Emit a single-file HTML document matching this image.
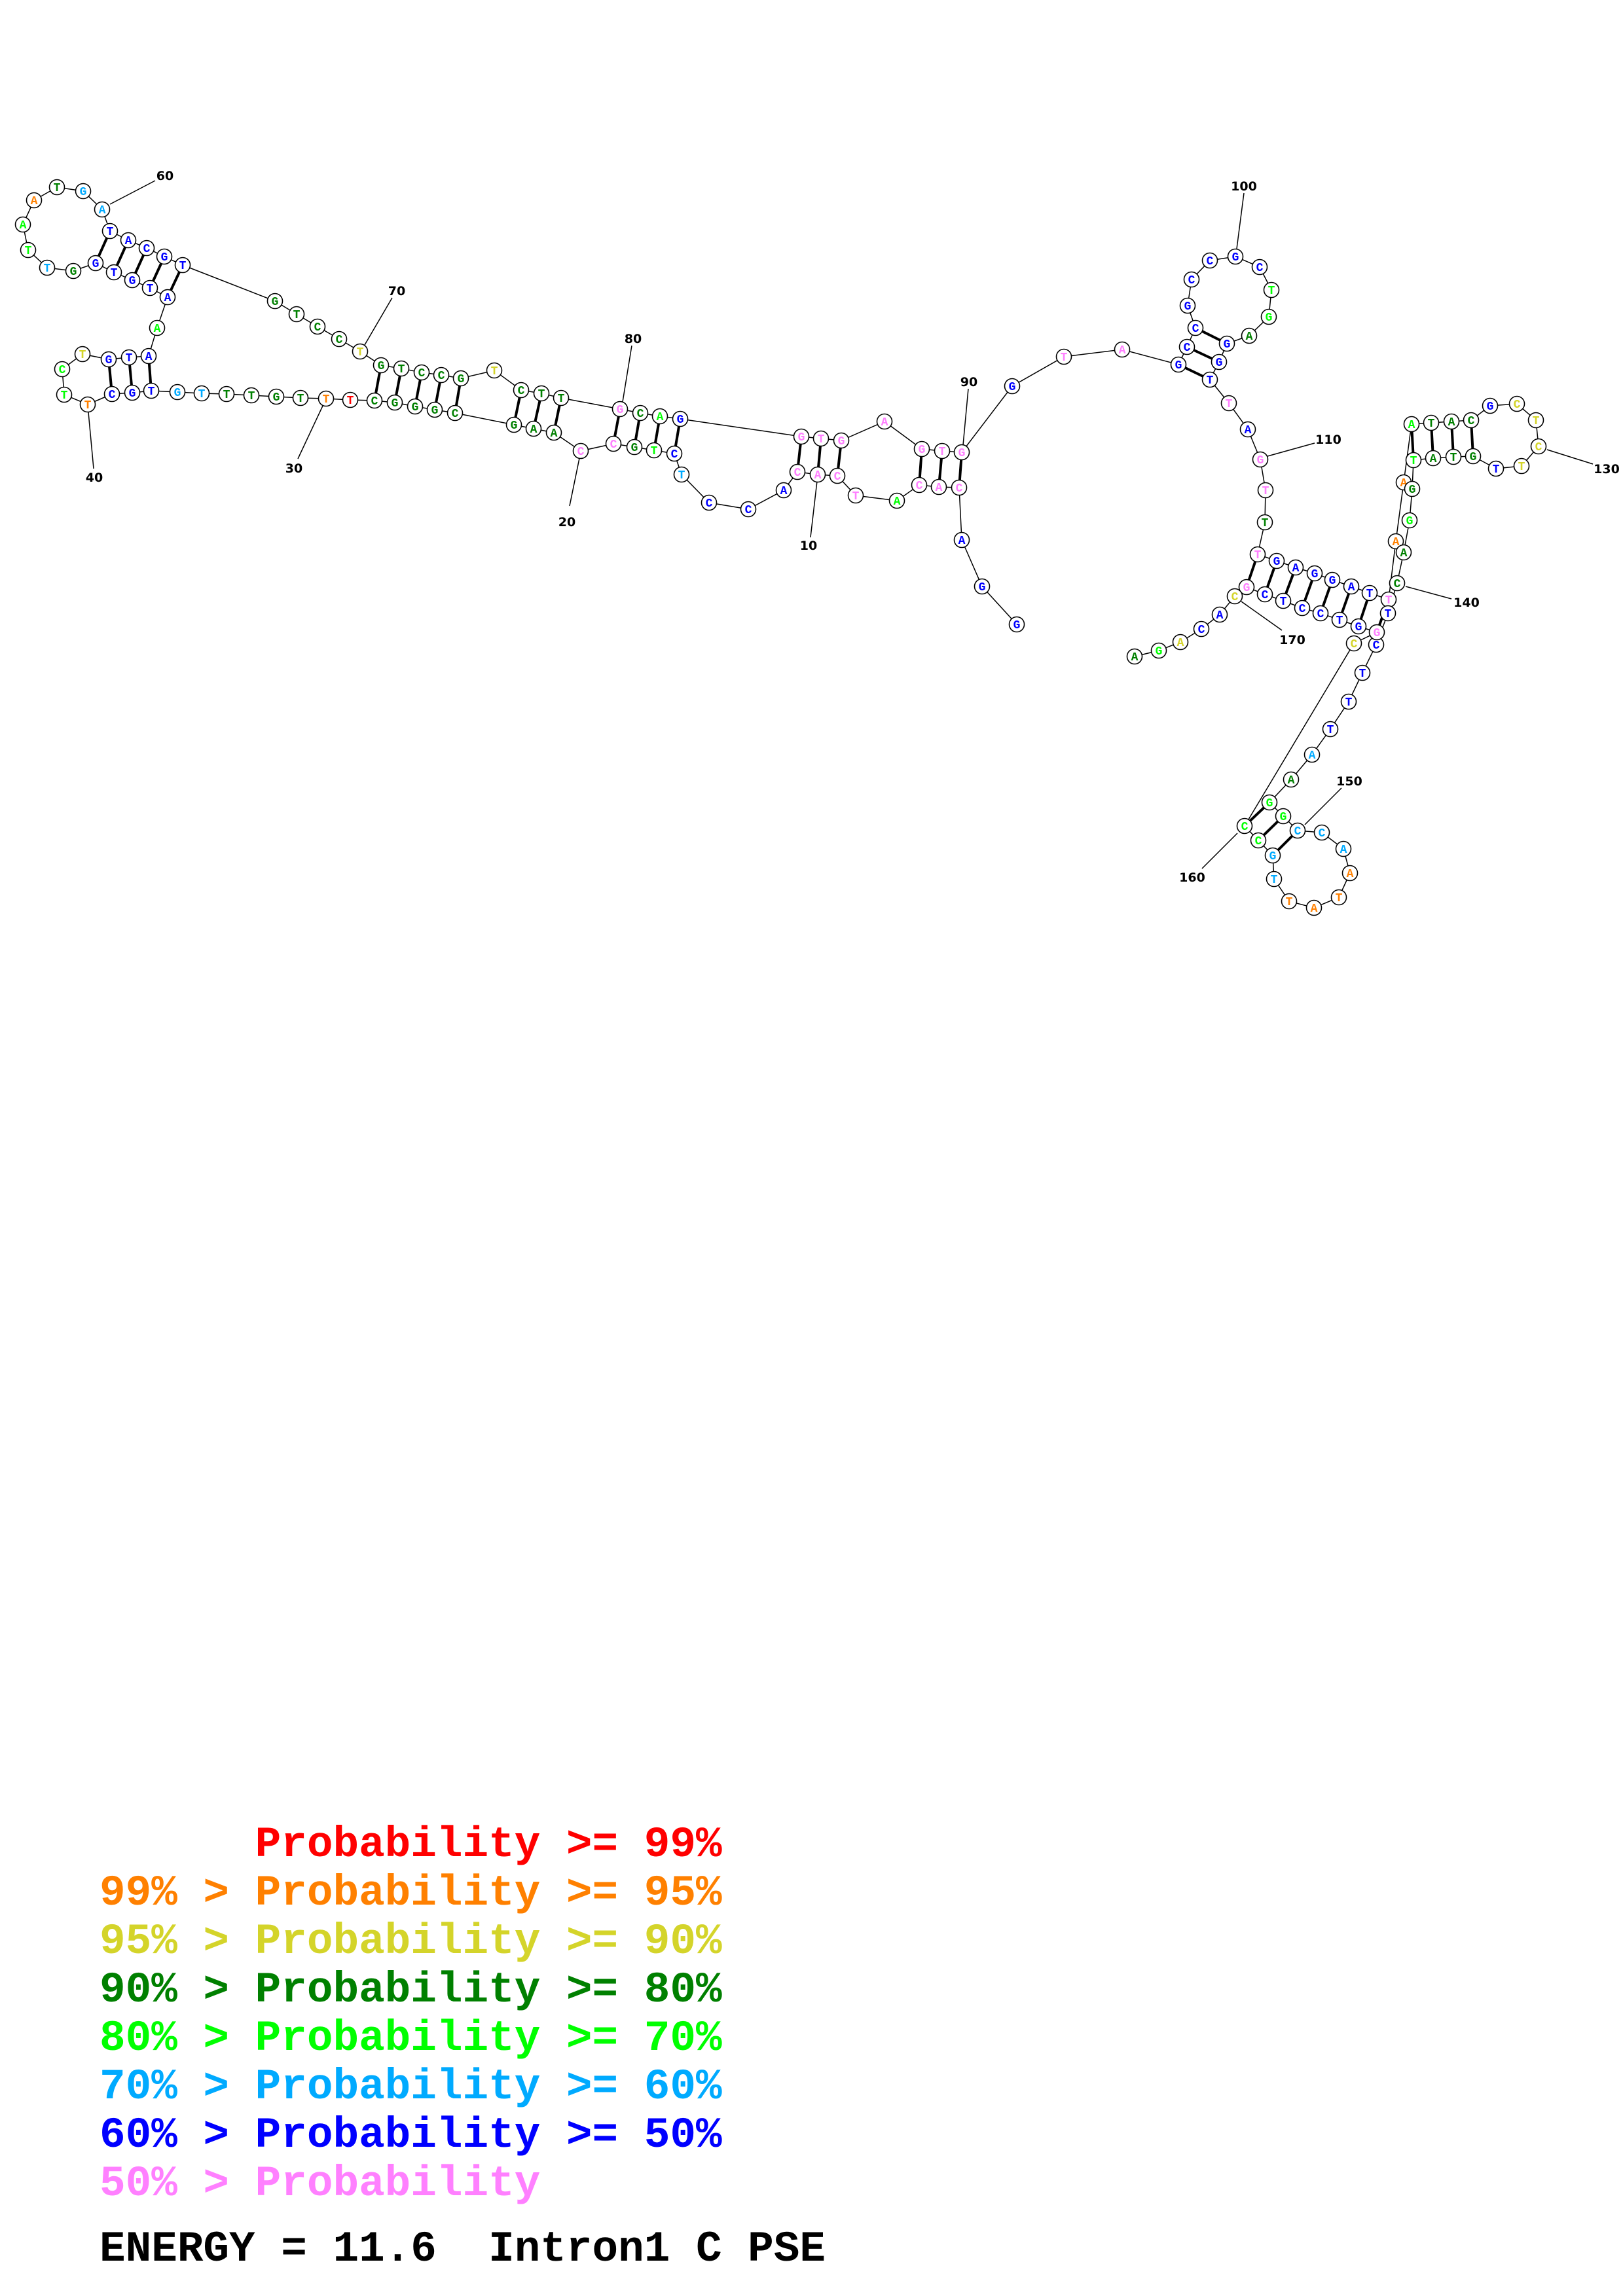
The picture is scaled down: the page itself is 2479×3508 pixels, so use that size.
<!DOCTYPE html>
<html><head><meta charset="utf-8"><style>
html,body{margin:0;padding:0;background:#fff;}
body{width:2479px;height:3508px;position:relative;overflow:hidden;}
svg{position:absolute;left:0;top:0;}
circle{r:11.5px;fill:#fff;stroke:#000;stroke-width:1.6;}
.n text{font-family:"Liberation Mono",monospace;font-weight:bold;font-size:18px;text-anchor:middle;}
.r{fill:#ff0000}.o{fill:#ff8000}.y{fill:#d4d42a}.d{fill:#008000}.g{fill:#00ff00}.l{fill:#00aaff}.b{fill:#0000ff}.p{fill:#ff80ff}
.lab{font-family:"DejaVu Sans",sans-serif;font-weight:bold;font-size:19px;text-anchor:middle;fill:#000;}
.leg{position:absolute;left:152px;font-family:"Liberation Mono",monospace;font-weight:bold;font-size:66px;white-space:pre;line-height:1;margin:0;}
</style></head><body>
<svg width="2479" height="3508" viewBox="0 0 2479 3508">
<g fill="none" stroke="#000" stroke-width="1.5">
<polyline points="1553,954 1500,896 1469,825 1465,745 1434,744 1404,741 1370,765 1307,757 1279,727 1249,725 1218,721 1197,749 1143,778 1083,768 1041,725 1030,693 999,688 969,683 937,678 887,689 846,661 815,655 785,649 695,631 664,626 634,621 603,615 572,612 535,611 498,609 459,608 422,606 384,604 346,602 308,601 271,599 231,597 202,600 171,602 134,618 98,603 95,564 126,541 166,549 197,546 227,544 240,501 256,454 229,440 202,428 174,416 146,402 112,414 72,409 43,382 35,343 52,306 87,286 127,292 156,320 168,353 196,367 224,379 251,392 279,405 420,460 453,480 485,499 518,518 550,537 582,558 613,563 644,569 674,573 704,578 755,566 796,596 827,601 857,608 947,625 978,631 1008,636 1039,640 1224,667 1254,670 1285,673 1351,644 1408,686 1439,689 1469,691 1546,590 1625,545 1714,534 1800,557 1813,530 1826,501 1814,467 1820,427 1848,398 1887,392 1924,408 1942,443 1938,484 1908,513 1874,525 1862,553 1848,580 1877,616 1906,656 1925,702 1933,749 1932,798 1921,847 1950,857 1979,867 2008,876 2035,886 2064,896 2092,906 2121,916 2132,827 2144,737 2156,648 2186,646 2217,644 2247,642 2276,620 2317,617 2346,642 2350,682 2324,712 2285,716 2250,697 2220,698 2189,700 2159,703 2157,747 2153,795 2144,844 2134,891 2120,937 2102,985 2081,1028 2060,1072 2032,1114 2004,1153 1972,1191 1939,1226 1960,1247 1982,1269 2019,1272 2052,1297 2062,1334 2045,1371 2007,1387 1969,1377 1946,1343 1944,1307 1922,1284 1901,1262 2068,983 2103,966 2075,957 2046,947 2017,937 1989,929 1960,918 1932,908 1904,897 1886,911 1863,939 1835,961 1803,981 1770,994 1733,1003"/>
<line x1="1248" y1="735" x2="1238" y2="821"/>
<line x1="885" y1="700" x2="870" y2="773"/>
<line x1="493" y1="620" x2="455" y2="701"/>
<line x1="135" y1="630" x2="143" y2="716"/>
<line x1="237" y1="276" x2="168" y2="312"/>
<line x1="599" y1="455" x2="557" y2="527"/>
<line x1="965" y1="528" x2="951" y2="614"/>
<line x1="1479" y1="594" x2="1471" y2="680"/>
<line x1="1900" y1="295" x2="1889" y2="380"/>
<line x1="2008" y1="677" x2="1936" y2="697"/>
<line x1="2433" y1="709" x2="2363" y2="687"/>
<line x1="2217" y1="915" x2="2147" y2="896"/>
<line x1="2049" y1="1204" x2="1993" y2="1260"/>
<line x1="1836" y1="1327" x2="1890" y2="1273"/>
<line x1="1958" y1="963" x2="1896" y2="919"/>
</g>
<g stroke="#000" stroke-width="4">
<line x1="1465" y1="745" x2="1469" y2="691"/><line x1="1434" y1="744" x2="1439" y2="689"/><line x1="1404" y1="741" x2="1408" y2="686"/>
<line x1="1279" y1="727" x2="1285" y2="673"/><line x1="1249" y1="725" x2="1254" y2="670"/><line x1="1218" y1="721" x2="1224" y2="667"/>
<line x1="1030" y1="693" x2="1039" y2="640"/><line x1="999" y1="688" x2="1008" y2="636"/><line x1="969" y1="683" x2="978" y2="631"/><line x1="937" y1="678" x2="947" y2="625"/>
<line x1="846" y1="661" x2="857" y2="608"/><line x1="815" y1="655" x2="827" y2="601"/><line x1="785" y1="649" x2="796" y2="596"/>
<line x1="695" y1="631" x2="704" y2="578"/><line x1="664" y1="626" x2="674" y2="573"/><line x1="634" y1="621" x2="644" y2="569"/><line x1="603" y1="615" x2="613" y2="563"/><line x1="572" y1="612" x2="582" y2="558"/>
<line x1="231" y1="597" x2="227" y2="544"/><line x1="202" y1="600" x2="197" y2="546"/><line x1="171" y1="602" x2="166" y2="549"/>
<line x1="256" y1="454" x2="279" y2="405"/><line x1="229" y1="440" x2="251" y2="392"/><line x1="202" y1="428" x2="224" y2="379"/><line x1="174" y1="416" x2="196" y2="367"/><line x1="146" y1="402" x2="168" y2="353"/>
<line x1="1800" y1="557" x2="1848" y2="580"/><line x1="1813" y1="530" x2="1862" y2="553"/><line x1="1826" y1="501" x2="1874" y2="525"/>
<line x1="1921" y1="847" x2="1904" y2="897"/><line x1="1950" y1="857" x2="1932" y2="908"/><line x1="1979" y1="867" x2="1960" y2="918"/><line x1="2008" y1="876" x2="1989" y2="929"/><line x1="2035" y1="886" x2="2017" y2="937"/><line x1="2064" y1="896" x2="2046" y2="947"/><line x1="2092" y1="906" x2="2075" y2="957"/><line x1="2121" y1="916" x2="2103" y2="966"/>
<line x1="2156" y1="648" x2="2159" y2="703"/><line x1="2186" y1="646" x2="2189" y2="700"/><line x1="2217" y1="644" x2="2220" y2="698"/><line x1="2247" y1="642" x2="2250" y2="697"/>
<line x1="1939" y1="1226" x2="1901" y2="1262"/><line x1="1960" y1="1247" x2="1922" y2="1284"/><line x1="1982" y1="1269" x2="1944" y2="1307"/>
</g>
<g class="n">
<circle cx="1553" cy="954"/><text x="1553" y="960" class="b">G</text>
<circle cx="1500" cy="896"/><text x="1500" y="902" class="b">G</text>
<circle cx="1469" cy="825"/><text x="1469" y="831" class="b">A</text>
<circle cx="1465" cy="745"/><text x="1465" y="751" class="p">C</text>
<circle cx="1434" cy="744"/><text x="1434" y="750" class="p">A</text>
<circle cx="1404" cy="741"/><text x="1404" y="747" class="p">C</text>
<circle cx="1370" cy="765"/><text x="1370" y="771" class="g">A</text>
<circle cx="1307" cy="757"/><text x="1307" y="763" class="p">T</text>
<circle cx="1279" cy="727"/><text x="1279" y="733" class="p">C</text>
<circle cx="1249" cy="725"/><text x="1249" y="731" class="p">A</text>
<circle cx="1218" cy="721"/><text x="1218" y="727" class="p">C</text>
<circle cx="1197" cy="749"/><text x="1197" y="755" class="b">A</text>
<circle cx="1143" cy="778"/><text x="1143" y="784" class="b">C</text>
<circle cx="1083" cy="768"/><text x="1083" y="774" class="b">C</text>
<circle cx="1041" cy="725"/><text x="1041" y="731" class="l">T</text>
<circle cx="1030" cy="693"/><text x="1030" y="699" class="b">C</text>
<circle cx="999" cy="688"/><text x="999" y="694" class="g">T</text>
<circle cx="969" cy="683"/><text x="969" y="689" class="d">G</text>
<circle cx="937" cy="678"/><text x="937" y="684" class="p">C</text>
<circle cx="887" cy="689"/><text x="887" y="695" class="p">C</text>
<circle cx="846" cy="661"/><text x="846" y="667" class="d">A</text>
<circle cx="815" cy="655"/><text x="815" y="661" class="d">A</text>
<circle cx="785" cy="649"/><text x="785" y="655" class="d">G</text>
<circle cx="695" cy="631"/><text x="695" y="637" class="d">C</text>
<circle cx="664" cy="626"/><text x="664" y="632" class="d">G</text>
<circle cx="634" cy="621"/><text x="634" y="627" class="d">G</text>
<circle cx="603" cy="615"/><text x="603" y="621" class="d">G</text>
<circle cx="572" cy="612"/><text x="572" y="618" class="d">C</text>
<circle cx="535" cy="611"/><text x="535" y="617" class="r">T</text>
<circle cx="498" cy="609"/><text x="498" y="615" class="o">T</text>
<circle cx="459" cy="608"/><text x="459" y="614" class="d">T</text>
<circle cx="422" cy="606"/><text x="422" y="612" class="d">G</text>
<circle cx="384" cy="604"/><text x="384" y="610" class="d">T</text>
<circle cx="346" cy="602"/><text x="346" y="608" class="d">T</text>
<circle cx="308" cy="601"/><text x="308" y="607" class="l">T</text>
<circle cx="271" cy="599"/><text x="271" y="605" class="l">G</text>
<circle cx="231" cy="597"/><text x="231" y="603" class="b">T</text>
<circle cx="202" cy="600"/><text x="202" y="606" class="b">G</text>
<circle cx="171" cy="602"/><text x="171" y="608" class="b">C</text>
<circle cx="134" cy="618"/><text x="134" y="624" class="o">T</text>
<circle cx="98" cy="603"/><text x="98" y="609" class="g">T</text>
<circle cx="95" cy="564"/><text x="95" y="570" class="g">C</text>
<circle cx="126" cy="541"/><text x="126" y="547" class="y">T</text>
<circle cx="166" cy="549"/><text x="166" y="555" class="b">G</text>
<circle cx="197" cy="546"/><text x="197" y="552" class="b">T</text>
<circle cx="227" cy="544"/><text x="227" y="550" class="b">A</text>
<circle cx="240" cy="501"/><text x="240" y="507" class="g">A</text>
<circle cx="256" cy="454"/><text x="256" y="460" class="b">A</text>
<circle cx="229" cy="440"/><text x="229" y="446" class="b">T</text>
<circle cx="202" cy="428"/><text x="202" y="434" class="b">G</text>
<circle cx="174" cy="416"/><text x="174" y="422" class="b">T</text>
<circle cx="146" cy="402"/><text x="146" y="408" class="b">G</text>
<circle cx="112" cy="414"/><text x="112" y="420" class="d">G</text>
<circle cx="72" cy="409"/><text x="72" y="415" class="l">T</text>
<circle cx="43" cy="382"/><text x="43" y="388" class="g">T</text>
<circle cx="35" cy="343"/><text x="35" y="349" class="g">A</text>
<circle cx="52" cy="306"/><text x="52" y="312" class="o">A</text>
<circle cx="87" cy="286"/><text x="87" y="292" class="d">T</text>
<circle cx="127" cy="292"/><text x="127" y="298" class="l">G</text>
<circle cx="156" cy="320"/><text x="156" y="326" class="l">A</text>
<circle cx="168" cy="353"/><text x="168" y="359" class="b">T</text>
<circle cx="196" cy="367"/><text x="196" y="373" class="b">A</text>
<circle cx="224" cy="379"/><text x="224" y="385" class="b">C</text>
<circle cx="251" cy="392"/><text x="251" y="398" class="b">G</text>
<circle cx="279" cy="405"/><text x="279" y="411" class="b">T</text>
<circle cx="420" cy="460"/><text x="420" y="466" class="d">G</text>
<circle cx="453" cy="480"/><text x="453" y="486" class="d">T</text>
<circle cx="485" cy="499"/><text x="485" y="505" class="d">C</text>
<circle cx="518" cy="518"/><text x="518" y="524" class="d">C</text>
<circle cx="550" cy="537"/><text x="550" y="543" class="y">T</text>
<circle cx="582" cy="558"/><text x="582" y="564" class="d">G</text>
<circle cx="613" cy="563"/><text x="613" y="569" class="d">T</text>
<circle cx="644" cy="569"/><text x="644" y="575" class="d">C</text>
<circle cx="674" cy="573"/><text x="674" y="579" class="d">C</text>
<circle cx="704" cy="578"/><text x="704" y="584" class="d">G</text>
<circle cx="755" cy="566"/><text x="755" y="572" class="y">T</text>
<circle cx="796" cy="596"/><text x="796" y="602" class="d">C</text>
<circle cx="827" cy="601"/><text x="827" y="607" class="d">T</text>
<circle cx="857" cy="608"/><text x="857" y="614" class="d">T</text>
<circle cx="947" cy="625"/><text x="947" y="631" class="p">G</text>
<circle cx="978" cy="631"/><text x="978" y="637" class="d">C</text>
<circle cx="1008" cy="636"/><text x="1008" y="642" class="g">A</text>
<circle cx="1039" cy="640"/><text x="1039" y="646" class="b">G</text>
<circle cx="1224" cy="667"/><text x="1224" y="673" class="p">G</text>
<circle cx="1254" cy="670"/><text x="1254" y="676" class="p">T</text>
<circle cx="1285" cy="673"/><text x="1285" y="679" class="p">G</text>
<circle cx="1351" cy="644"/><text x="1351" y="650" class="p">A</text>
<circle cx="1408" cy="686"/><text x="1408" y="692" class="p">G</text>
<circle cx="1439" cy="689"/><text x="1439" y="695" class="p">T</text>
<circle cx="1469" cy="691"/><text x="1469" y="697" class="p">G</text>
<circle cx="1546" cy="590"/><text x="1546" y="596" class="b">G</text>
<circle cx="1625" cy="545"/><text x="1625" y="551" class="p">T</text>
<circle cx="1714" cy="534"/><text x="1714" y="540" class="p">A</text>
<circle cx="1800" cy="557"/><text x="1800" y="563" class="b">G</text>
<circle cx="1813" cy="530"/><text x="1813" y="536" class="b">C</text>
<circle cx="1826" cy="501"/><text x="1826" y="507" class="b">C</text>
<circle cx="1814" cy="467"/><text x="1814" y="473" class="b">G</text>
<circle cx="1820" cy="427"/><text x="1820" y="433" class="b">C</text>
<circle cx="1848" cy="398"/><text x="1848" y="404" class="b">C</text>
<circle cx="1887" cy="392"/><text x="1887" y="398" class="b">G</text>
<circle cx="1924" cy="408"/><text x="1924" y="414" class="b">C</text>
<circle cx="1942" cy="443"/><text x="1942" y="449" class="g">T</text>
<circle cx="1938" cy="484"/><text x="1938" y="490" class="g">G</text>
<circle cx="1908" cy="513"/><text x="1908" y="519" class="d">A</text>
<circle cx="1874" cy="525"/><text x="1874" y="531" class="b">G</text>
<circle cx="1862" cy="553"/><text x="1862" y="559" class="b">G</text>
<circle cx="1848" cy="580"/><text x="1848" y="586" class="b">T</text>
<circle cx="1877" cy="616"/><text x="1877" y="622" class="p">T</text>
<circle cx="1906" cy="656"/><text x="1906" y="662" class="b">A</text>
<circle cx="1925" cy="702"/><text x="1925" y="708" class="p">G</text>
<circle cx="1933" cy="749"/><text x="1933" y="755" class="p">T</text>
<circle cx="1932" cy="798"/><text x="1932" y="804" class="d">T</text>
<circle cx="1921" cy="847"/><text x="1921" y="853" class="p">T</text>
<circle cx="1950" cy="857"/><text x="1950" y="863" class="b">G</text>
<circle cx="1979" cy="867"/><text x="1979" y="873" class="b">A</text>
<circle cx="2008" cy="876"/><text x="2008" y="882" class="b">G</text>
<circle cx="2035" cy="886"/><text x="2035" y="892" class="b">G</text>
<circle cx="2064" cy="896"/><text x="2064" y="902" class="b">A</text>
<circle cx="2092" cy="906"/><text x="2092" y="912" class="b">T</text>
<circle cx="2121" cy="916"/><text x="2121" y="922" class="p">T</text>
<circle cx="2132" cy="827"/><text x="2132" y="833" class="o">A</text>
<circle cx="2144" cy="737"/><text x="2144" y="743" class="o">A</text>
<circle cx="2156" cy="648"/><text x="2156" y="654" class="g">A</text>
<circle cx="2186" cy="646"/><text x="2186" y="652" class="d">T</text>
<circle cx="2217" cy="644"/><text x="2217" y="650" class="d">A</text>
<circle cx="2247" cy="642"/><text x="2247" y="648" class="d">C</text>
<circle cx="2276" cy="620"/><text x="2276" y="626" class="b">G</text>
<circle cx="2317" cy="617"/><text x="2317" y="623" class="y">C</text>
<circle cx="2346" cy="642"/><text x="2346" y="648" class="y">T</text>
<circle cx="2350" cy="682"/><text x="2350" y="688" class="y">C</text>
<circle cx="2324" cy="712"/><text x="2324" y="718" class="y">T</text>
<circle cx="2285" cy="716"/><text x="2285" y="722" class="b">T</text>
<circle cx="2250" cy="697"/><text x="2250" y="703" class="d">G</text>
<circle cx="2220" cy="698"/><text x="2220" y="704" class="d">T</text>
<circle cx="2189" cy="700"/><text x="2189" y="706" class="d">A</text>
<circle cx="2159" cy="703"/><text x="2159" y="709" class="g">T</text>
<circle cx="2157" cy="747"/><text x="2157" y="753" class="d">G</text>
<circle cx="2153" cy="795"/><text x="2153" y="801" class="g">G</text>
<circle cx="2144" cy="844"/><text x="2144" y="850" class="d">A</text>
<circle cx="2134" cy="891"/><text x="2134" y="897" class="d">C</text>
<circle cx="2120" cy="937"/><text x="2120" y="943" class="b">T</text>
<circle cx="2102" cy="985"/><text x="2102" y="991" class="b">C</text>
<circle cx="2081" cy="1028"/><text x="2081" y="1034" class="b">T</text>
<circle cx="2060" cy="1072"/><text x="2060" y="1078" class="b">T</text>
<circle cx="2032" cy="1114"/><text x="2032" y="1120" class="b">T</text>
<circle cx="2004" cy="1153"/><text x="2004" y="1159" class="l">A</text>
<circle cx="1972" cy="1191"/><text x="1972" y="1197" class="d">A</text>
<circle cx="1939" cy="1226"/><text x="1939" y="1232" class="g">G</text>
<circle cx="1960" cy="1247"/><text x="1960" y="1253" class="g">G</text>
<circle cx="1982" cy="1269"/><text x="1982" y="1275" class="l">C</text>
<circle cx="2019" cy="1272"/><text x="2019" y="1278" class="l">C</text>
<circle cx="2052" cy="1297"/><text x="2052" y="1303" class="l">A</text>
<circle cx="2062" cy="1334"/><text x="2062" y="1340" class="o">A</text>
<circle cx="2045" cy="1371"/><text x="2045" y="1377" class="o">T</text>
<circle cx="2007" cy="1387"/><text x="2007" y="1393" class="o">A</text>
<circle cx="1969" cy="1377"/><text x="1969" y="1383" class="o">T</text>
<circle cx="1946" cy="1343"/><text x="1946" y="1349" class="l">T</text>
<circle cx="1944" cy="1307"/><text x="1944" y="1313" class="l">G</text>
<circle cx="1922" cy="1284"/><text x="1922" y="1290" class="g">C</text>
<circle cx="1901" cy="1262"/><text x="1901" y="1268" class="g">C</text>
<circle cx="2068" cy="983"/><text x="2068" y="989" class="y">C</text>
<circle cx="2103" cy="966"/><text x="2103" y="972" class="p">G</text>
<circle cx="2075" cy="957"/><text x="2075" y="963" class="b">G</text>
<circle cx="2046" cy="947"/><text x="2046" y="953" class="b">T</text>
<circle cx="2017" cy="937"/><text x="2017" y="943" class="b">C</text>
<circle cx="1989" cy="929"/><text x="1989" y="935" class="b">C</text>
<circle cx="1960" cy="918"/><text x="1960" y="924" class="b">T</text>
<circle cx="1932" cy="908"/><text x="1932" y="914" class="b">C</text>
<circle cx="1904" cy="897"/><text x="1904" y="903" class="p">G</text>
<circle cx="1886" cy="911"/><text x="1886" y="917" class="y">C</text>
<circle cx="1863" cy="939"/><text x="1863" y="945" class="b">A</text>
<circle cx="1835" cy="961"/><text x="1835" y="967" class="b">C</text>
<circle cx="1803" cy="981"/><text x="1803" y="987" class="y">A</text>
<circle cx="1770" cy="994"/><text x="1770" y="1000" class="g">G</text>
<circle cx="1733" cy="1003"/><text x="1733" y="1009" class="d">A</text>
</g>
<g class="lab">
<text x="1235" y="840">10</text>
<text x="866" y="804">20</text>
<text x="449" y="722">30</text>
<text x="144" y="736">40</text>
<text x="252" y="275">60</text>
<text x="606" y="451">70</text>
<text x="967" y="524">80</text>
<text x="1480" y="590">90</text>
<text x="1900" y="291">100</text>
<text x="2029" y="678">110</text>
<text x="2454" y="723">130</text>
<text x="2240" y="927">140</text>
<text x="2061" y="1200">150</text>
<text x="1821" y="1347">160</text>
<text x="1974" y="984">170</text>
</g>
</svg>
<div class="leg" style="top:2786px;color:#ff0000">      Probability &gt;= 99%</div>
<div class="leg" style="top:2860px;color:#ff8000">99% &gt; Probability &gt;= 95%</div>
<div class="leg" style="top:2934px;color:#d4d42a">95% &gt; Probability &gt;= 90%</div>
<div class="leg" style="top:3008px;color:#008000">90% &gt; Probability &gt;= 80%</div>
<div class="leg" style="top:3082px;color:#00ff00">80% &gt; Probability &gt;= 70%</div>
<div class="leg" style="top:3156px;color:#00aaff">70% &gt; Probability &gt;= 60%</div>
<div class="leg" style="top:3230px;color:#0000ff">60% &gt; Probability &gt;= 50%</div>
<div class="leg" style="top:3304px;color:#ff80ff">50% &gt; Probability</div>
<div class="leg" style="top:3404px;color:#000">ENERGY = 11.6  Intron1 C PSE</div>
</body></html>
